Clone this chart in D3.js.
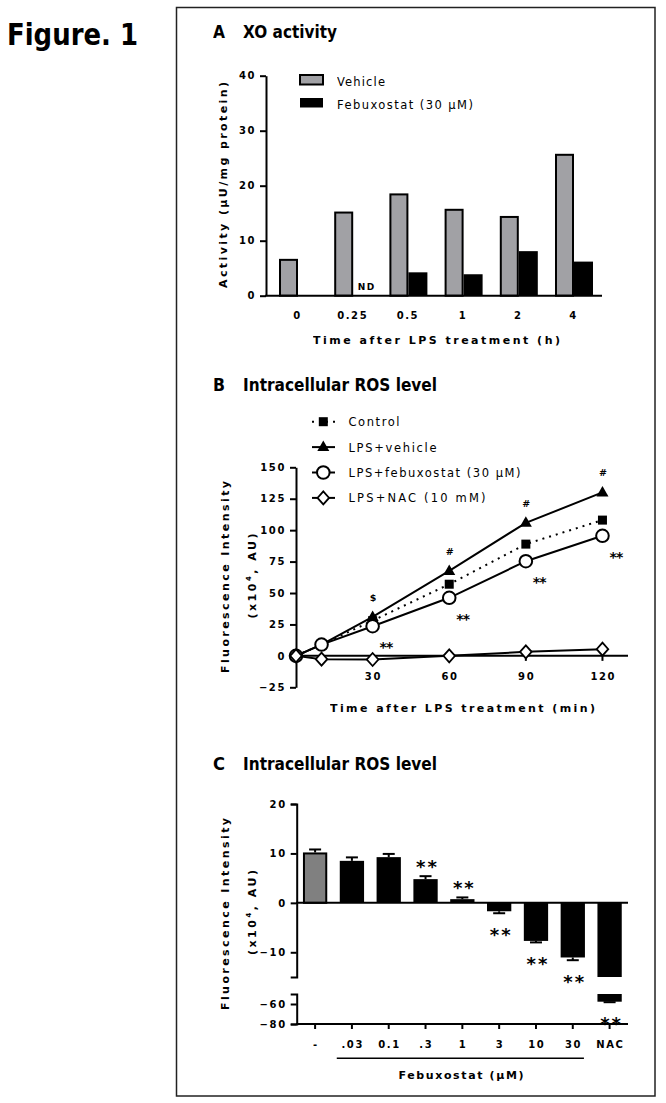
<!DOCTYPE html>
<html><head><meta charset="utf-8">
<script src="https://cdn.jsdelivr.net/npm/d3@7"></script>
<style>
body{margin:0;background:#fff}
svg{display:block}
text{font-family:"DejaVu Sans",Verdana,sans-serif;fill:#000;-webkit-font-smoothing:antialiased}
</style>
</head><body><svg id="c" width="666" height="1103"></svg>
<script>
// ---------- data ----------
const aCats = ["0","0.25","0.5","1","2","4"];
const aVehicle = [6.7,15.3,18.6,15.8,14.5,25.8];
const aFebux = [null,0,4.25,3.9,8.1,6.2];
const aNote = ["","ND","","","",""];
const aTicks = [0,10,20,30,40];
const aSeries = ["Vehicle","Febuxostat (30 \u03BCM)"];

const bTime = [0,10,30,60,90,120];
const bControl = [0,9,28,57,88.9,108];
const bVehicle = [0,9,31,67.6,105.8,130];
const bFebux = [0,9,23.6,46.2,75.3,95.5];
const bNAC = [0,-2.6,-2.9,0,3.2,5.3];
const bYTicks = [-25,0,25,50,75,100,125,150];
const bXTicks = [30,60,90,120];
const bHash = ["","","$","#","#","#"];
const bStars = ["","","**","**","**","**"];
const bSeries = ["Control","LPS+vehicle","LPS+febuxostat (30 \u03BCM)","LPS+NAC (10 mM)"];

const cCats = ["-",".03","0.1",".3","1","3","10","30","NAC"];
const cValues = [10.2,8.5,9.25,4.8,0.75,-1.7,-7.7,-11.05,-57.7];
const cErr = [0.6,0.7,0.65,0.6,0.35,0.4,0.3,0.55,0.5];
const cStars = ["","","","**","**","**","**","**","**"];
const cUpperTicks = [-10,0,10,20];
const cLowerTicks = [-80,-60];

// ---------- helpers ----------
const svg = d3.select("#c");
function txt(g, x, y, s, o) {
  o = o || {};
  const t = g.append("text").attr("x", x).attr("y", y).text(s)
    .attr("font-size", o.size || 10)
    .attr("font-weight", o.weight || "bold")
    .attr("text-anchor", o.anchor || "start")
    .attr("fill", "#000").attr("opacity", 0.999);
  if (o.ls != null) t.attr("letter-spacing", o.ls);
  if (o.len) t.attr("textLength", o.len).attr("lengthAdjust", o.adj || "spacing");
  if (o.rot) t.attr("transform", `rotate(-90,${x},${y})`);
  return t;
}
function styleAxis(g) {
  g.selectAll("path,line").attr("stroke", "#000").attr("stroke-width", 2);
  g.selectAll("text").attr("font-family", '"DejaVu Sans",Verdana,sans-serif')
    .attr("font-weight", "bold").attr("font-size", 10).attr("letter-spacing", 1.6)
    .attr("fill", "#000").attr("opacity", 0.999);
}

// ---------- frame & figure label ----------
svg.append("rect").attr("x", 176.5).attr("y", 7.5).attr("width", 478.5).attr("height", 1088.5)
  .attr("fill", "none").attr("stroke", "#222").attr("stroke-width", 1.5);
txt(svg, 7, 45, "Figure. 1", {size: 30, len: 131, adj: "spacingAndGlyphs"});

function title(y, letter, s, len) {
  txt(svg, 213, y, letter, {size: 18, len: 12, adj: "spacingAndGlyphs"});
  txt(svg, 243, y, s, {size: 18, len: len, adj: "spacingAndGlyphs"});
}
title(38, "A", "XO activity", 94);
title(391, "B", "Intracellular ROS level", 194);
title(770, "C", "Intracellular ROS level", 194);

// ---------- Panel A ----------
{
  const g = svg.append("g");
  const x = d3.scalePoint().domain(aCats).range([298, 574]);
  const y = d3.scaleLinear().domain([0, 40]).range([295.7, 75.7]);
  const bw = 19;
  g.selectAll("rect.veh").data(aCats).join("rect")
    .attr("x", c => x(c) - bw + 1).attr("width", bw - 2)
    .attr("y", (c, i) => y(aVehicle[i]) + 1)
    .attr("height", (c, i) => y(0) - y(aVehicle[i]) - 1)
    .attr("fill", "#a1a1a5").attr("stroke", "#000").attr("stroke-width", 2);
  g.selectAll("rect.feb").data(aCats.filter((c, i) => aFebux[i] != null && aFebux[i] > 0)).join("rect")
    .attr("x", c => x(c)).attr("width", bw)
    .attr("y", c => y(aFebux[aCats.indexOf(c)]))
    .attr("height", c => y(0) - y(aFebux[aCats.indexOf(c)]))
    .attr("fill", "#000");
  aCats.forEach((c, i) => {
    if (aNote[i]) txt(g, x(c) + bw / 2 + 4, 289.5, aNote[i], {size: 9, anchor: "middle", ls: 1.5});
  });
  const ya = g.append("g").attr("transform", "translate(266,0)")
    .call(d3.axisLeft(y).tickValues(aTicks).tickSize(6).tickSizeOuter(0).tickPadding(4));
  styleAxis(ya);
  g.append("line").attr("x1", 265).attr("x2", 602).attr("y1", y(0)).attr("y2", y(0))
    .attr("stroke", "#000").attr("stroke-width", 2);
  aCats.forEach(c => txt(g, x(c) - 0.5, 319, c, {size: 10, anchor: "middle", ls: 1.6}));
  txt(g, 436.5, 344, "Time after LPS treatment (h)", {size: 11, anchor: "middle", len: 247});
  txt(g, 227, 185, "Activity (\u03BCU/mg protein)", {size: 11, anchor: "middle", len: 206, rot: true});
  const lg = [ {fill: "#a1a1a5", stroke: true}, {fill: "#000", stroke: false} ];
  aSeries.forEach((s, i) => {
    const yy = 74 + i * 23;
    g.append("rect").attr("x", 300).attr("y", yy + 1).attr("width", 23).attr("height", 9.5)
      .attr("fill", lg[i].fill).attr("stroke", lg[i].stroke ? "#000" : "none").attr("stroke-width", 2);
    txt(g, 337, yy + 11.5, s, {size: 11.5, weight: "normal", len: i === 0 ? 48 : 136});
  });
}

// ---------- Panel B ----------
{
  const g = svg.append("g");
  const x = d3.scaleLinear().domain([0, 130]).range([296, 628]);
  const y = d3.scaleLinear().domain([-25, 150]).range([687.3, 467.3]);
  const ya = g.append("g").attr("transform", "translate(296,0)")
    .call(d3.axisLeft(y).tickValues(bYTicks).tickSize(6).tickSizeOuter(0).tickPadding(4));
  styleAxis(ya);
  g.append("line").attr("x1", 295).attr("x2", 628).attr("y1", y(0)).attr("y2", y(0))
    .attr("stroke", "#000").attr("stroke-width", 2);
  bXTicks.forEach(t => {
    g.append("line").attr("x1", x(t)).attr("x2", x(t)).attr("y1", y(0)).attr("y2", y(0) + 5)
      .attr("stroke", "#000").attr("stroke-width", 2);
    txt(g, x(t) + 0.8, 680, String(t), {size: 10, anchor: "middle", ls: 1.6});
  });
  txt(g, 462.5, 712, "Time after LPS treatment (min)", {size: 11, anchor: "middle", len: 265});
  txt(g, 229, 577, "Fluorescence Intensity", {size: 11, anchor: "middle", len: 192, rot: true});
  const yl = txt(g, 256, 576, "", {size: 11, anchor: "middle", len: 85, rot: true});
  yl.append("tspan").text("(x10");
  yl.append("tspan").text("4").attr("font-size", 7).attr("dy", -5);
  yl.append("tspan").text(", AU)").attr("dy", 5);

  const line = d3.line().x(d => x(d[0])).y(d => y(d[1]));
  const pts = arr => bTime.map((t, i) => [t, arr[i]]);
  const lineStyle = (p, dash) => g.append("path").attr("d", line(p)).attr("fill", "none")
    .attr("stroke", "#000").attr("stroke-width", 2).attr("stroke-dasharray", dash || null);
  lineStyle(pts(bNAC));
  lineStyle(pts(bControl), "2,5");
  lineStyle(pts(bVehicle));
  lineStyle(pts(bFebux));

  const square = (gg, cx, cy) => gg.append("rect").attr("x", cx - 4.5).attr("y", cy - 4.5)
    .attr("width", 9).attr("height", 9).attr("fill", "#000");
  const tri = (gg, cx, cy) => gg.append("path")
    .attr("d", `M${cx},${cy - 6.5}L${cx + 6},${cy + 4}L${cx - 6},${cy + 4}Z`).attr("fill", "#000");
  const circ = (gg, cx, cy) => gg.append("circle").attr("cx", cx).attr("cy", cy).attr("r", 6.3)
    .attr("fill", "#fff").attr("stroke", "#000").attr("stroke-width", 2);
  const diam = (gg, cx, cy) => gg.append("path")
    .attr("d", `M${cx},${cy - 6.5}L${cx + 5.8},${cy}L${cx},${cy + 6.5}L${cx - 5.8},${cy}Z`)
    .attr("fill", "#fff").attr("stroke", "#000").attr("stroke-width", 1.8);

  bTime.forEach((t, i) => square(g, x(t), y(bControl[i])));
  bTime.forEach((t, i) => tri(g, x(t), y(bVehicle[i])));
  bTime.forEach((t, i) => circ(g, x(t), y(bFebux[i])));
  bTime.forEach((t, i) => diam(g, x(t), y(bNAC[i])));

  bTime.forEach((t, i) => {
    if (bHash[i]) txt(g, x(t) + 0.8, y(bVehicle[i]) - 16, bHash[i], {size: 9.5, weight: "bold", anchor: "middle", ls: 0.6});
    if (bStars[i]) txt(g, x(t) + 13.5, y(bFebux[i]) + 26, bStars[i], {size: 14, anchor: "middle", ls: -0.8});
  });

  const mk = [square, tri, circ, diam];
  const lens = [51, 88, 172, 137];
  bSeries.forEach((s, i) => {
    const yy = 421.7 + i * 25.4;
    g.append("line").attr("x1", 312).attr("x2", 335).attr("y1", yy).attr("y2", yy)
      .attr("stroke", "#000").attr("stroke-width", 2).attr("stroke-dasharray", i === 0 ? "2,5" : null);
    mk[i](g, 323.3, yy);
    txt(g, 348.5, yy + 4.5, s, {size: 11.5, weight: "normal", len: lens[i]});
  });
}

// ---------- Panel C ----------
{
  const g = svg.append("g");
  const x = d3.scaleBand().domain(cCats).range([296.7, 628]).paddingInner(0.34).paddingOuter(0.17);
  const yU = d3.scaleLinear().domain([-15, 20]).range([977, 804]);
  const yL = d3.scaleLinear().domain([-80, -50]).range([1024, 994]);
  const bw = x.bandwidth();

  cCats.forEach((c, i) => {
    const v = cValues[i];
    const fill = i === 0 ? "#808080" : "#000";
    const sw = i === 0 ? 2 : 0;
    if (v >= -15) {
      const top = yU(Math.max(v, 0)), bot = yU(Math.min(v, 0));
      g.append("rect").attr("x", x(c) + sw / 2).attr("y", top + sw / 2)
        .attr("width", bw - sw).attr("height", Math.max(bot - top - sw / 2, 0))
        .attr("fill", fill).attr("stroke", sw ? "#000" : "none").attr("stroke-width", sw);
    } else {
      g.append("rect").attr("x", x(c)).attr("y", yU(0)).attr("width", bw)
        .attr("height", yU(-15) - yU(0)).attr("fill", fill);
      g.append("rect").attr("x", x(c)).attr("y", yL(-50)).attr("width", bw)
        .attr("height", yL(v) - yL(-50)).attr("fill", fill);
    }
    const cx = x(c) + bw / 2;
    const sc = v >= -15 ? yU : yL;
    const e = v >= 0 ? v + cErr[i] : v - cErr[i];
    g.append("line").attr("x1", cx).attr("x2", cx).attr("y1", sc(v)).attr("y2", sc(e))
      .attr("stroke", "#000").attr("stroke-width", 2);
    g.append("line").attr("x1", cx - 6).attr("x2", cx + 6).attr("y1", sc(e)).attr("y2", sc(e))
      .attr("stroke", "#000").attr("stroke-width", 2);
    if (cStars[i]) {
      const sy = v >= 0 ? sc(e) - 3 : sc(e) + 28;
      txt(g, cx + 2, sy, cStars[i], {size: 18, weight: "bold", anchor: "middle", ls: 2});
    }
  });

  g.append("line").attr("x1", 296).attr("x2", 628).attr("y1", yU(0)).attr("y2", yU(0))
    .attr("stroke", "#000").attr("stroke-width", 2);
  const au = g.append("g").attr("transform", "translate(296.7,0)")
    .call(d3.axisLeft(yU).tickValues(cUpperTicks).tickSize(6).tickSizeOuter(6).tickPadding(4));
  styleAxis(au);
  const al = g.append("g").attr("transform", "translate(296.7,0)")
    .call(d3.axisLeft(yL).tickValues(cLowerTicks).tickSize(6).tickSizeOuter(6).tickPadding(4));
  styleAxis(al);
  g.append("line").attr("x1", 296).attr("x2", 628).attr("y1", yL(-80)).attr("y2", yL(-80))
    .attr("stroke", "#000").attr("stroke-width", 2);
  cCats.forEach(c => {
    const cx = x(c) + bw / 2;
    g.append("line").attr("x1", cx).attr("x2", cx).attr("y1", yL(-80)).attr("y2", yL(-80) + 5)
      .attr("stroke", "#000").attr("stroke-width", 2);
    txt(g, cx + 0.8, 1047.5, c, {size: 10, anchor: "middle", ls: 1.6});
  });
  g.append("line").attr("x1", x(".03") - 3).attr("x2", x("30") + bw - 1)
    .attr("y1", 1058.3).attr("y2", 1058.3).attr("stroke", "#000").attr("stroke-width", 1.5);
  txt(g, 461, 1078.5, "Febuxostat (\u03BCM)", {size: 11, anchor: "middle", len: 125});
  txt(g, 229, 914, "Fluorescence Intensity", {size: 11, anchor: "middle", len: 192, rot: true});
  const yl = txt(g, 256, 912.5, "", {size: 11, anchor: "middle", len: 85, rot: true});
  yl.append("tspan").text("(x10");
  yl.append("tspan").text("4").attr("font-size", 7).attr("dy", -5);
  yl.append("tspan").text(", AU)").attr("dy", 5);
}
</script>
</body></html>
